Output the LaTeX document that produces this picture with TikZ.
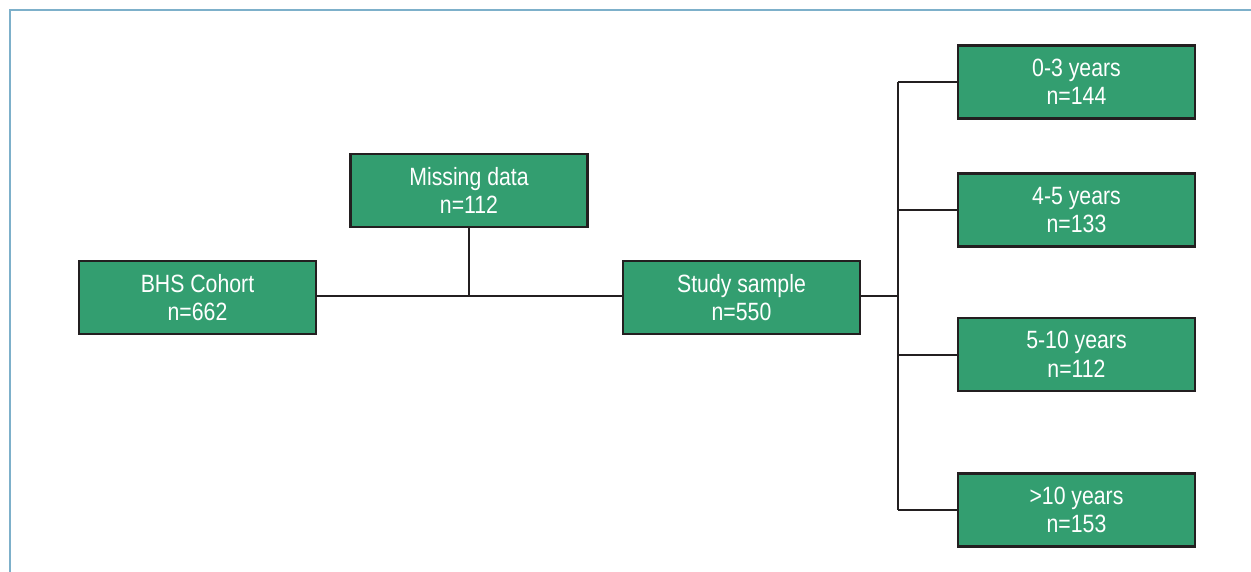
\documentclass[tikz,border=0pt]{standalone}
\usepackage{fontspec}
\setmainfont[FakeStretch=0.85]{Liberation Sans}
\definecolor{boxgreen}{HTML}{339E70}
\definecolor{edgedark}{HTML}{231F20}
\definecolor{frameblue}{HTML}{7DB0CA}
\begin{document}
\begin{tikzpicture}[x=1pt,y=-1pt,
  box/.style={draw=edgedark,line width=2.8pt,fill=boxgreen,text=white,
    minimum width=237pt,minimum height=73pt,inner sep=0pt,align=center,
    font=\fontsize{25}{28.5}\selectfont},
  link/.style={draw=edgedark,line width=2pt}]
\useasboundingbox (0,0) rectangle (1251,572);
\draw[frameblue,line width=2pt] (1251,10) -- (10,10) -- (10,572);
\node[box] (bhs) at (197.5,297.5) {BHS Cohort\\n=662};
\node[box] (miss) at (469,190.5) {Missing data\\n=112};
\node[box] (study) at (741.5,297.5) {Study sample\\n=550};
\node[box] (g1) at (1076.5,82) {0-3 years\\n=144};
\node[box] (g2) at (1076.5,210) {4-5 years\\n=133};
\node[box] (g3) at (1076.5,354.5) {5-10 years\\n=112};
\node[box] (g4) at (1076.5,510) {>10 years\\n=153};
\coordinate (j) at (469,296);
\coordinate (t) at (898,296);
\coordinate (t1) at (898,82);
\coordinate (t2) at (898,210);
\coordinate (t3) at (898,354.5);
\coordinate (t4) at (898,510);
\draw[link] (bhs.east |- j) -- (study.west |- j);
\draw[link] (miss.south) -- (j);
\draw[link] (study.east |- t) -- (t);
\draw[link] (t1) -- (t4);
\draw[link] (t1) -- (g1.west);
\draw[link] (t2) -- (g2.west);
\draw[link] (t3) -- (g3.west);
\draw[link] (t4) -- (g4.west);
\end{tikzpicture}
\end{document}
